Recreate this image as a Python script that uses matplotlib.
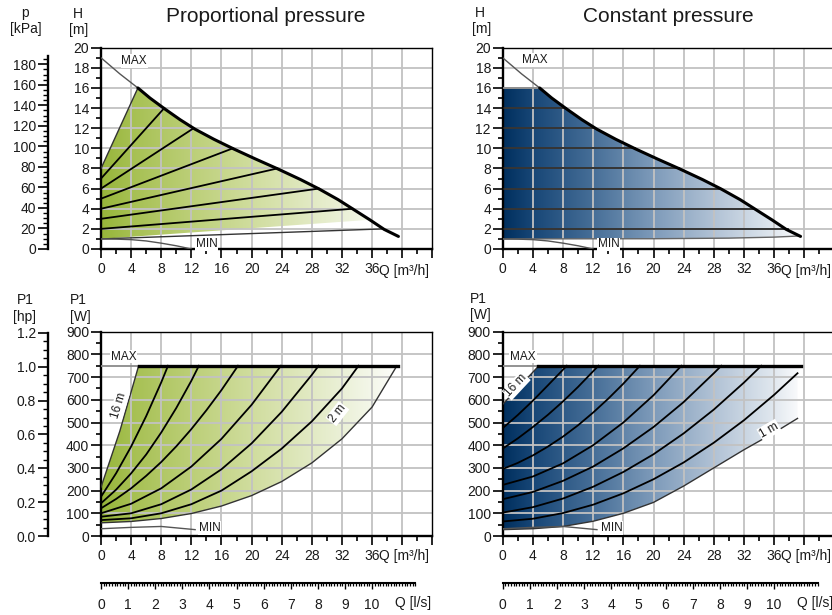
import numpy as np
import matplotlib.pyplot as plt
from matplotlib.colors import LinearSegmentedColormap
from matplotlib.patches import Polygon
from matplotlib.ticker import MultipleLocator, FixedLocator

plt.rcParams['font.family'] = ['Liberation Sans', 'DejaVu Sans']

FW, FH = 832, 615

# flow axis (m3/h)
q_ticks = [0, 4, 8, 12, 16, 20, 24, 28, 32, 36, 40, 44]
q_labels = ['0', '4', '8', '12', '16', '20', '24', '28', '32', '36', '', '']
ls_ticks = list(range(0, 11))

# head charts (Q m3/h, H m)
max_q = [0, 2.5, 4.9, 6.5, 8.5, 10.5, 12.5, 15.0, 17.6, 20.5, 23.5, 26.5, 29.0,
         31.5, 33.6, 35.7, 37.6, 39.5]
max_h = [19.0, 17.4, 16.0, 15.0, 13.9, 12.85, 11.9, 10.9, 9.95, 8.95, 7.95, 6.9,
         5.95, 4.9, 3.9, 2.9, 1.95, 1.25]
min_q = [0, 2, 4, 6, 8, 10, 12]
min_h = [1.0, 0.98, 0.93, 0.8, 0.58, 0.32, 0.0]

set_heads = [16, 14, 12, 10, 8, 6, 4, 2]
set_q = [4.9, 8.4, 12.3, 17.5, 23.4, 28.9, 33.4, 37.5]
prop_h0 = [8, 7, 6, 5, 4, 3, 2, 1]

const_low_q = [0, 20, 30, 36, 39.5]
const_low_h = [1.0, 1.02, 1.08, 1.18, 1.3]
const_2m_end = 37.8

# power charts (Q m3/h, P1 W)
p_max = 750
p_max_start = 5.0
p_max_end = 39.5
min_pw_q = [0, 4, 8, 12.5]
min_pw_p = [32, 38, 42, 28]

prop_pw_q = [
    [0, 2.5, 5.0],
    [0, 2, 4, 6, 8, 8.9],
    [0, 2, 4, 6, 8, 10, 12, 13.0],
    [0, 2, 4, 6, 8, 10, 12, 14, 16, 18.2],
    [0, 4, 8, 12, 16, 20, 23.9],
    [0, 4, 8, 12, 16, 20, 24, 28, 28.9],
    [0, 4, 8, 12, 16, 20, 24, 28, 32, 34.2],
    [0, 4, 8, 12, 16, 20, 24, 28, 32, 36, 39.3],
]
prop_pw_p = [
    [215, 462, 750],
    [173, 276, 394, 528, 677, 750],
    [144, 204, 276, 359, 456, 564, 684, 750],
    [122, 163, 210, 265, 326, 395, 471, 554, 643, 750],
    [100, 142, 210, 306, 428, 578, 750],
    [85, 100, 140, 205, 294, 408, 547, 710, 750],
    [70, 78, 100, 140, 200, 285, 385, 505, 650, 750],
    [58, 64, 77, 99, 132, 178, 240, 322, 428, 568, 750],
]

const_pw_q = [
    [0, 4.8],
    [0, 2, 4, 6, 8.5],
    [0, 2, 4, 6, 8, 10, 12.7],
    [0, 2, 4, 6, 8, 10, 12, 14, 16, 18.2],
    [0, 4, 8, 12, 16, 20, 23.7],
    [0, 4, 8, 12, 16, 20, 24, 28, 29.0],
    [0, 4, 8, 12, 16, 20, 24, 28, 32, 34.3],
    [0, 4, 8, 12, 16, 20, 24, 28, 32, 36, 39.1],
    [0, 4, 8, 12, 16, 20, 24, 28, 32, 36, 39.1],
]
const_pw_p = [
    [580, 750],
    [475, 533, 596, 664, 750],
    [385, 430, 480, 534, 593, 657, 750],
    [295, 322, 355, 394, 438, 488, 544, 605, 671, 750],
    [225, 262, 320, 400, 500, 620, 750],
    [162, 194, 243, 306, 386, 480, 590, 717, 750],
    [103, 127, 165, 217, 282, 360, 452, 557, 676, 750],
    [64, 76, 101, 138, 188, 250, 324, 411, 510, 622, 717],
    [28, 32, 42, 65, 100, 148, 220, 300, 380, 455, 518],
]

green = LinearSegmentedColormap.from_list('green', [
    (0.0, '#97b53a'), (0.1, '#a6c052'), (0.3, '#bccf78'), (0.5, '#d0dd9e'),
    (0.7, '#e2eac4'), (0.9, '#f4f7ea'), (1.0, '#ffffff')])
blue = LinearSegmentedColormap.from_list('blue', [
    (0.0, '#002f5e'), (0.1, '#184777'), (0.3, '#476f98'), (0.5, '#7e9bba'),
    (0.7, '#b1c2d5'), (0.9, '#e1e8ef'), (1.0, '#ffffff')])

TXT = '#1a1a1a'
GRID = '#c2c2c2'


def px_axes(x0, y_bottom, x_unit, y_top):
    return fig.add_axes([x0 / FW, 1 - y_bottom / FH, 44 * x_unit / FW, (y_bottom - y_top) / FH])


def style(ax, ymax, ymajor, yminor, hgrid):
    ax.set_xlim(0, 44)
    ax.set_ylim(0, ymax)
    ax.xaxis.set_major_locator(FixedLocator(q_ticks))
    ax.set_xticklabels(q_labels)
    ax.xaxis.set_minor_locator(MultipleLocator(2))
    ax.yaxis.set_major_locator(MultipleLocator(ymajor))
    ax.yaxis.set_minor_locator(MultipleLocator(yminor))
    ax.tick_params(which='major', direction='out', length=6.5, width=1.2,
                   labelsize=10, labelcolor=TXT, pad=3)
    ax.tick_params(axis='y', which='major', length=7, pad=1.5)
    ax.tick_params(which='minor', direction='out', length=3.6, width=1.2)
    for s in ['left', 'bottom']:
        ax.spines[s].set_linewidth(1.7)
    for s in ['top', 'right']:
        ax.spines[s].set_linewidth(1.0)
    for x in range(4, 44, 4):
        ax.axvline(x, color=GRID, lw=1.3, zorder=1)
    for y in hgrid:
        ax.axhline(y, color=GRID, lw=1.3, zorder=1)


def gradient(ax, verts, cmap, ymax):
    poly = Polygon(verts, closed=True, facecolor='none', edgecolor='none')
    ax.add_patch(poly)
    im = ax.imshow(np.linspace(0, 1, 256).reshape(1, -1), cmap=cmap,
                   extent=[0, 40, 0, ymax], aspect='auto', origin='lower',
                   zorder=0.5, interpolation='bilinear')
    im.set_clip_path(poly)


def qlabel(ax, ypx_axes):
    ax.text(36.9, ypx_axes, 'Q [m³/h]', transform=ax.get_xaxis_transform(),
            ha='left', va='center', fontsize=10, color=TXT)


def tag(ax, x, y, s, rot=0, ha='left', size=8.5):
    ax.text(x, y, s, fontsize=size, color=TXT, ha=ha, va='center', rotation=rot,
            rotation_mode='anchor', zorder=6,
            bbox=dict(facecolor='white', edgecolor='none', pad=0.6))


def ls_axis(ax):
    sec = ax.secondary_xaxis(-0.23, functions=(lambda q: q / 3.6, lambda l: l * 3.6))
    sec.xaxis.set_major_locator(FixedLocator(ls_ticks))
    sec.xaxis.set_minor_locator(FixedLocator(np.arange(0, 11.65, 0.1)))
    sec.tick_params(which='major', direction='out', length=4.5, width=1.0,
                    labelsize=10, labelcolor=TXT, pad=6)
    sec.tick_params(which='minor', direction='out', length=2.5, width=0.9)
    sec.spines['bottom'].set_linewidth(1.5)
    sec.spines['bottom'].set_bounds(0, 11.6)
    ax.text(39.0, -0.328, 'Q [l/s]', transform=ax.get_xaxis_transform(),
            ha='left', va='center', fontsize=10, color=TXT)


fig = plt.figure(figsize=(FW / 100, FH / 100), dpi=100)

# ---------------- top left: proportional pressure, head ----------------
ax = px_axes(101, 249, 7.53, 47.7)
style(ax, 20, 2, 1, range(2, 20, 2))
top = [(q, h) for q, h in zip(max_q, max_h) if set_q[0] <= q <= set_q[-1]]
verts = [(0, prop_h0[0])] + top + [(0, prop_h0[-1])]
gradient(ax, verts, green, 20)
ax.plot(max_q[:3], max_h[:3], color='#555555', lw=1.0, zorder=3)
ax.plot(max_q[2:], max_h[2:], color='black', lw=2.2, zorder=4, solid_capstyle='round')
for i, (h0, q, h) in enumerate(zip(prop_h0, set_q, set_heads)):
    edge = i == 0 or i == len(set_heads) - 1
    ax.plot([0, q], [h0, h], color='#333333' if edge else 'black', lw=1.0 if edge else 1.3, zorder=3)
ax.plot(min_q, min_h, color='#555555', lw=1.0, zorder=3)
tag(ax, 2.7, 18.7, 'MAX')
tag(ax, 12.6, 0.45, 'MIN')
qlabel(ax, -0.11)
sec = ax.secondary_yaxis(-0.16, functions=(lambda h: h * 9.81, lambda p: p / 9.81))
sec.yaxis.set_major_locator(FixedLocator(range(0, 181, 20)))
sec.yaxis.set_minor_locator(FixedLocator(np.arange(0, 189, 5)))
sec.tick_params(which='major', direction='out', length=7, width=1.2, labelsize=10,
                labelcolor=TXT, pad=1.5)
sec.tick_params(which='minor', direction='out', length=3.6, width=1.0)
sec.spines['left'].set_linewidth(1.7)
sec.spines['left'].set_bounds(0, 188)

# ---------------- top right: constant pressure, head ----------------
ax = px_axes(502.7, 249, 7.54, 47.7)
style(ax, 20, 2, 1, range(2, 20, 2))
verts = [(0, 1), (0, 16)] + list(zip(max_q[2:], max_h[2:])) + list(zip(const_low_q, const_low_h))[::-1]
gradient(ax, verts, blue, 20)
ax.plot(max_q[:3], max_h[:3], color='#555555', lw=1.0, zorder=3)
ax.plot(max_q[2:], max_h[2:], color='black', lw=2.2, zorder=4, solid_capstyle='round')
ax.plot([0, set_q[0]], [16, 16], color='#8a8a8a', lw=1.3, zorder=3)
for q, h in zip(set_q[1:-1], set_heads[1:-1]):
    ax.plot([0, q], [h, h], color='#1c1c1c', lw=1.2, zorder=3)
ax.plot([0, const_2m_end], [2, 2], color='#1c1c1c', lw=1.2, zorder=3)
ax.plot(const_low_q, const_low_h, color='#666666', lw=1.0, zorder=3)
ax.plot(min_q, min_h, color='#555555', lw=1.0, zorder=3)
tag(ax, 2.6, 18.8, 'MAX')
tag(ax, 12.6, 0.45, 'MIN')
qlabel(ax, -0.11)

# ---------------- bottom left: proportional pressure, power ----------------
ax = px_axes(101, 536, 7.53, 331.7)
style(ax, 900, 100, 50, range(100, 900, 100))
verts = list(zip(prop_pw_q[0], prop_pw_p[0])) + [(p_max_end, p_max)] + \
    list(zip(prop_pw_q[-1], prop_pw_p[-1]))[::-1]
gradient(ax, verts, green, 900)
ax.plot([0, p_max_start], [p_max, p_max], color='#8a8a8a', lw=1.3, zorder=3)
ax.plot([p_max_start, p_max_end], [p_max, p_max], color='black', lw=2.4, zorder=4)
for i, (qs, ps) in enumerate(zip(prop_pw_q, prop_pw_p)):
    edge = i == 0 or i == len(prop_pw_q) - 1
    ax.plot(qs, ps, color='#333333' if edge else 'black', lw=1.0 if edge else 1.3, zorder=3)
ax.plot(min_pw_q, min_pw_p, color='#555555', lw=1.0, zorder=3)
tag(ax, 1.3, 790, 'MAX')
tag(ax, 13.0, 36, 'MIN')
tag(ax, 1.9, 520, '16 m', rot=73)
tag(ax, 30.6, 505, '2 m', rot=52)
qlabel(ax, -0.10)
ls_axis(ax)
sec = ax.secondary_yaxis(-0.16, functions=(lambda w: w / 745.7, lambda hp: hp * 745.7))
sec.yaxis.set_major_locator(FixedLocator([0, 0.2, 0.4, 0.6, 0.8, 1.0, 1.2]))
sec.yaxis.set_minor_locator(FixedLocator(np.arange(0, 1.21, 0.05)))
sec.yaxis.set_major_formatter(lambda v, pos: f'{v:.1f}')
sec.tick_params(which='major', direction='out', length=7, width=1.2, labelsize=10,
                labelcolor=TXT, pad=1.5)
sec.tick_params(which='minor', direction='out', length=3.6, width=1.0)
sec.spines['left'].set_linewidth(1.7)
sec.spines['left'].set_bounds(0, 1.2)

# ---------------- bottom right: constant pressure, power ----------------
ax = px_axes(502.7, 536, 7.54, 331.7)
style(ax, 900, 100, 50, range(100, 900, 100))
verts = list(zip(const_pw_q[0], const_pw_p[0])) + [(p_max_end, p_max)] + \
    [(const_pw_q[-2][-1], const_pw_p[-2][-1])] + list(zip(const_pw_q[-1], const_pw_p[-1]))[::-1]
gradient(ax, verts, blue, 900)
ax.plot([0, p_max_start], [p_max, p_max], color='#8a8a8a', lw=1.3, zorder=3)
ax.plot([p_max_start - 0.3, p_max_end], [p_max, p_max], color='black', lw=2.4, zorder=4)
for i, (qs, ps) in enumerate(zip(const_pw_q, const_pw_p)):
    edge = i == 0 or i == len(const_pw_q) - 1
    ax.plot(qs, ps, color='#333333' if edge else 'black', lw=1.0 if edge else 1.3, zorder=3)
ax.plot(min_pw_q, min_pw_p, color='#555555', lw=1.0, zorder=3)
tag(ax, 1.0, 790, 'MAX')
tag(ax, 13.0, 36, 'MIN')
tag(ax, 0.6, 620, '16 m', rot=47)
tag(ax, 34.2, 445, '1 m', rot=30)
qlabel(ax, -0.10)
ls_axis(ax)

# ---------------- titles and unit labels ----------------
def ftext(x, y, s, size=10):
    fig.text(x / FW, 1 - y / FH, s, ha='center', va='center', fontsize=size, color=TXT)

ftext(266, 17, 'Proportional pressure', 15)
ftext(668, 17, 'Constant pressure', 15)
ftext(25, 13, 'p')
ftext(26, 29, '[kPa]')
ftext(78, 14, 'H')
ftext(79, 30, '[m]')
ftext(480, 13, 'H')
ftext(482, 29, '[m]')
ftext(25, 300, 'P1')
ftext(25, 317, '[hp]')
ftext(78, 300, 'P1')
ftext(80, 317, '[W]')
ftext(478, 299, 'P1')
ftext(480, 315, '[W]')

fig.savefig('out.png', dpi=100)
